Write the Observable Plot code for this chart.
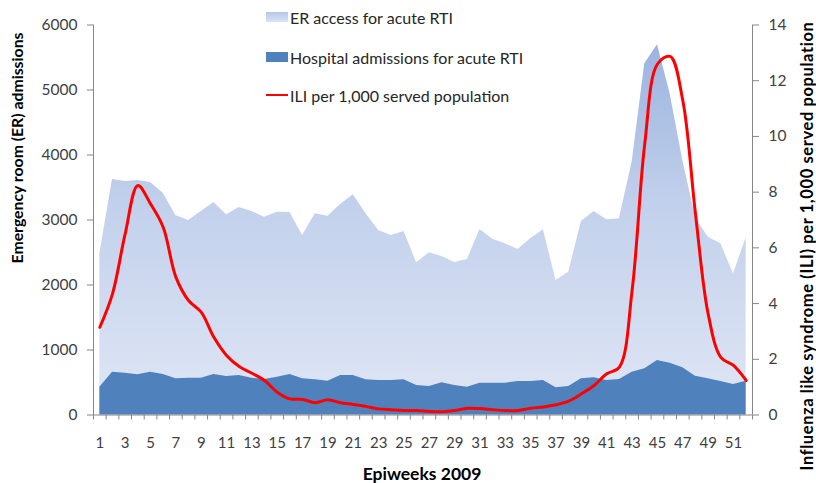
<!DOCTYPE html>
<html>
<head>
<meta charset="utf-8">
<script src="https://cdn.jsdelivr.net/npm/d3@7"></script>
<script src="https://cdn.jsdelivr.net/npm/@observablehq/plot@0.6"></script>
<style>
  body { margin: 0; background: #fff; }
  #wrap { position: relative; width: 816px; height: 483px; overflow: hidden; font-family: Lato, "Open Sans", sans-serif; }
  .leg { position: absolute; left: 266px; font-size: 16px; color: #262626; display: flex; align-items: center; white-space: nowrap; }
  .sw { width: 22px; height: 10px; margin-right: 2px; }
</style>
</head>
<body>
<div id="wrap"></div>
<script>
const weeks = d3.range(1, 53);
const erAccess = [2480, 3623, 3592, 3608, 3577, 3412, 3069, 2992, 3131, 3269, 3080, 3192, 3131, 3043, 3120, 3115,
  2762, 3095, 3059, 3238, 3387, 3095, 2838, 2762, 2823, 2341, 2495, 2438, 2346, 2392, 2854, 2705, 2633, 2546, 2710, 2849,
  2069, 2197, 2977, 3131, 3003, 3018, 3889, 5403, 5695, 4941, 3915, 3043, 2736, 2633, 2172, 2726];
const hospital = [428, 658, 643, 618, 658, 623, 556, 566, 566, 623, 592, 608, 566, 546, 582, 623,
  556, 541, 520, 608, 608, 541, 530, 530, 541, 454, 438, 495, 454, 428, 490, 490, 490, 515, 515, 530,
  418, 438, 556, 572, 530, 546, 658, 710, 838, 797, 726, 597, 556, 515, 469, 520];
const ili = [3.15, 4.35, 6.5, 8.24, 7.58, 6.74, 4.95, 4.11, 3.69, 2.79, 2.14, 1.74, 1.5, 1.24, 0.82, 0.58,
  0.56, 0.44, 0.55, 0.44, 0.38, 0.31, 0.22, 0.19, 0.16, 0.16, 0.13, 0.12, 0.16, 0.24, 0.23, 0.19, 0.16, 0.16, 0.24, 0.29,
  0.37, 0.5, 0.76, 1.06, 1.48, 1.72, 4.47, 9.74, 12.6, 12.87, 11.29, 7.22, 3.63, 2.07, 1.78, 1.24];
const leftTicks = [0, 1000, 2000, 3000, 4000, 5000, 6000];
const rightTicks = [0, 2, 4, 6, 8, 10, 12, 14];
const xLabelTicks = d3.range(1, 53, 2);
const legendLabels = ["ER access for acute RTI", "Hospital admissions for acute RTI", "ILI per 1,000 served population"];

const LEFT_MAX = 6000, RIGHT_MAX = 14;
const toLeft = v => v * LEFT_MAX / RIGHT_MAX;
const rows = weeks.map((w, i) => ({week: w, er: erAccess[i], hosp: hospital[i], ili: ili[i]}));

const axisGray = "#868686";
const textGray = "#404040";

const defs = () => {
  const d = d3.create("svg:defs");
  const g = d.append("linearGradient").attr("id", "erGrad").attr("x1", 0).attr("y1", 0).attr("x2", 0).attr("y2", 1);
  g.append("stop").attr("offset", "0%").attr("stop-color", "#9bb4df");
  g.append("stop").attr("offset", "45%").attr("stop-color", "#c3d1ec");
  g.append("stop").attr("offset", "100%").attr("stop-color", "#e0e7f5");
  return d.node();
};

const chart = Plot.plot({
  width: 816,
  height: 483,
  marginLeft: 93,
  marginRight: 64,
  marginTop: 24.5,
  marginBottom: 68.5,
  style: {fontFamily: "Lato, 'Open Sans', sans-serif", background: "white"},
  x: {domain: [0.5, 52.5], axis: null},
  y: {domain: [0, LEFT_MAX], axis: null},
  marks: [
    defs,
    Plot.areaY(rows, {x: "week", y: "er", fill: "url(#erGrad)"}),
    Plot.areaY(rows, {x: "week", y: "hosp", fill: "#4f81bd"}),
    Plot.lineY(rows, {x: "week", y: d => toLeft(d.ili), stroke: "#ff0000", strokeWidth: 3, curve: "catmull-rom"}),
    Plot.ruleX([0.5, 52.5], {stroke: axisGray}),
    Plot.ruleY([0], {stroke: axisGray}),
    Plot.axisY(leftTicks, {anchor: "left", tickSize: 6, tickPadding: 10, stroke: axisGray, fill: textGray, fontSize: 15.5, label: null, tickFormat: d => String(d)}),
    Plot.axisY(rightTicks.map(toLeft), {anchor: "right", tickSize: 6, tickPadding: 10, stroke: axisGray, fill: textGray, fontSize: 15.5, label: null, tickFormat: d => String(Math.round(d * RIGHT_MAX / LEFT_MAX))}),
    Plot.axisX(d3.range(0.5, 53, 1), {anchor: "bottom", tickSize: 5, stroke: axisGray, tickFormat: () => "", label: null}),
    Plot.axisX(xLabelTicks, {anchor: "bottom", tickSize: 0, tickPadding: 22, fill: textGray, fontSize: 15, label: null, tickFormat: d => String(d)})
  ]
});

const wrap = document.getElementById("wrap");
wrap.appendChild(chart);

const svg = d3.select(chart);
svg.append("text")
  .attr("transform", "translate(23,148) rotate(-90)")
  .attr("text-anchor", "middle")
  .attr("font-weight", "bold").attr("font-size", 15.8).attr("fill", "#000")
  .text("Emergency room (ER) admissions");
svg.append("text")
  .attr("transform", "translate(813,246) rotate(-90)")
  .attr("text-anchor", "middle")
  .attr("font-weight", "bold").attr("font-size", 16.5).attr("letter-spacing", 0.6).attr("fill", "#000")
  .text("Influenza like syndrome (ILI) per 1,000 served population");
svg.append("text")
  .attr("x", 422).attr("y", 480)
  .attr("text-anchor", "middle")
  .attr("font-weight", "bold").attr("font-size", 17.5).attr("fill", "#000")
  .text("Epiweeks 2009");

// legend
const legTops = [17, 57, 95];
const swStyles = [
  "background: linear-gradient(#b5c7e8, #dbe4f3);",
  "background: #4f81bd;",
  "height: 2.5px; background: #ff0000;"
];
legendLabels.forEach((lab, i) => {
  const el = document.createElement("div");
  el.className = "leg";
  el.style.top = (legTops[i] - 10) + "px";
  el.style.height = "20px";
  el.innerHTML = `<div class="sw" style="${swStyles[i]}"></div><span>${lab}</span>`;
  wrap.appendChild(el);
});
</script>
</body>
</html>
